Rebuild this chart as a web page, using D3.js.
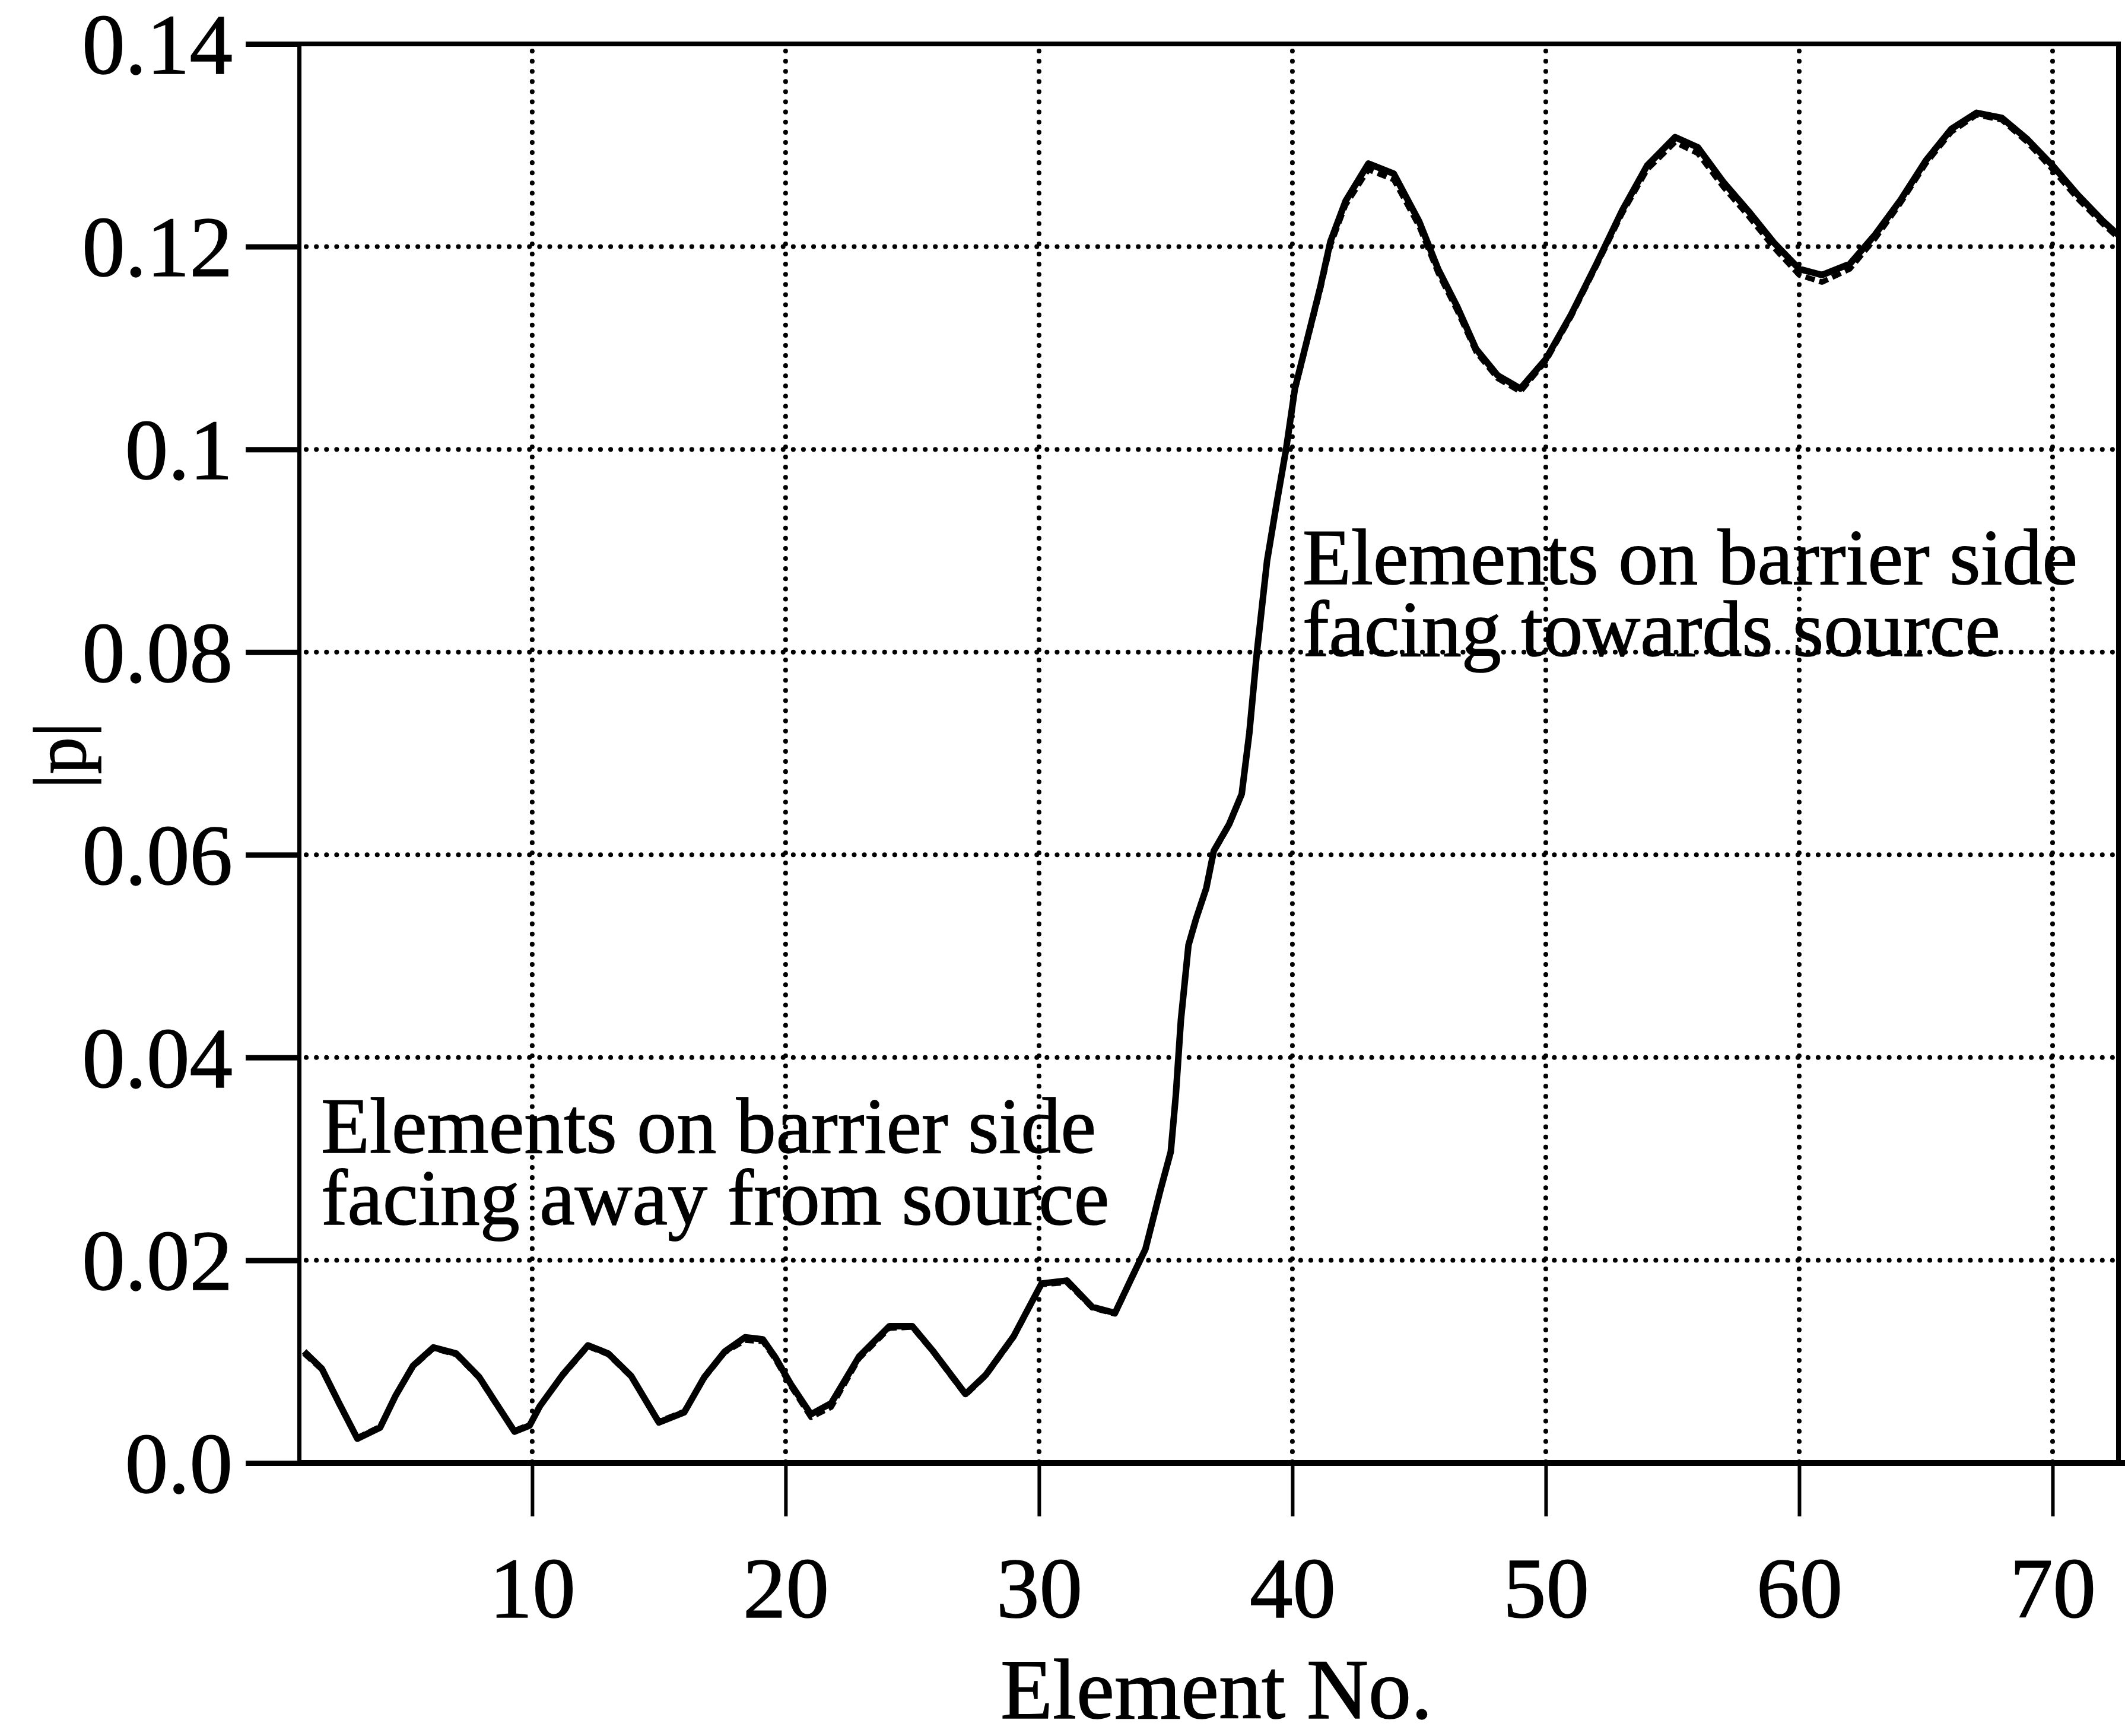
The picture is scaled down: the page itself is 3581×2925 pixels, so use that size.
<!DOCTYPE html>
<html>
<head>
<meta charset="utf-8">
<script src="https://cdn.jsdelivr.net/npm/d3@7"></script>
<style>
  html, body { margin: 0; padding: 0; background: #fff; }
  svg { display: block; }
  text { font-family: "Liberation Serif", "Times New Roman", serif; fill: #000; stroke: #000; stroke-width: 1.5px; }
</style>
</head>
<body>
<div id="chart"></div>
<script>
// Element numbers along the barrier boundary
const elementNo = [
  1.0, 1.7, 2.4, 3.1, 4.0, 4.6, 5.3, 6.1, 7.0, 7.9, 8.6, 9.3, 9.9, 10.3,
  11.2, 12.2, 13.0, 13.9, 15.0, 16.0, 16.8, 17.6, 18.4, 19.1, 19.6, 20.2,
  21.0, 21.8, 22.9, 24.1, 25.0, 25.8, 27.1, 27.9, 29.0, 30.1, 31.1, 32.1,
  33.0, 33.7, 34.2, 34.8, 35.2, 35.4, 35.6, 35.9, 36.2, 36.6, 36.9, 37.5,
  38.0, 38.3, 38.6, 39.0, 39.4, 39.75, 40.1, 40.6, 41.1, 41.5, 42.1, 43.0,
  44.0, 45.0, 45.75, 46.5, 47.25, 48.1, 49.0, 50.0, 51.0, 52.0, 53.0, 54.0,
  55.1, 56.0, 57.0, 58.0, 59.0, 60.0, 60.9, 62.0, 63.0, 64.0, 65.0, 66.0,
  67.0, 68.0, 69.0, 70.0, 71.0, 72.0, 72.75
];

// |p| on each element, first solution (solid)
const pSolid = [
  0.0110, 0.0093, 0.0058, 0.0024, 0.0035, 0.0066, 0.0096, 0.0114, 0.0108, 0.0085, 0.0058, 0.0031, 0.0037, 0.0056,
  0.0087, 0.0116, 0.0108, 0.0086, 0.0040, 0.0050, 0.0085, 0.0110, 0.0124, 0.0122, 0.0104, 0.0078,
  0.0048, 0.0059, 0.0105, 0.0135, 0.0135, 0.0111, 0.0068, 0.0087, 0.0125, 0.0177, 0.0180, 0.0154,
  0.0148, 0.0185, 0.0211, 0.0270, 0.0307, 0.0363, 0.0437, 0.0511, 0.0537, 0.0567, 0.0604, 0.0630,
  0.0660, 0.0720, 0.0800, 0.0890, 0.0950, 0.1000, 0.1060, 0.1110, 0.1160, 0.1205, 0.1245, 0.1282,
  0.1272, 0.1225, 0.1178, 0.1141, 0.1099, 0.1073, 0.1060, 0.1089, 0.1133, 0.1183, 0.1235, 0.1280,
  0.1308, 0.1298, 0.1264, 0.1235, 0.1204, 0.1178, 0.1172, 0.1183, 0.1212, 0.1246, 0.1285, 0.1316,
  0.1332, 0.1327, 0.1306, 0.1280, 0.1251, 0.1225, 0.1208
];

// |p| on each element, second solution (dashed, nearly coincident)
const pDashed = [
  0.0108, 0.0092, 0.0057, 0.0025, 0.0036, 0.0066, 0.0095, 0.0113, 0.0107, 0.0084, 0.0057, 0.0032, 0.0038, 0.0056,
  0.0086, 0.0115, 0.0107, 0.0085, 0.0041, 0.0051, 0.0084, 0.0109, 0.0121, 0.0120, 0.0102, 0.0076,
  0.0045, 0.0055, 0.0103, 0.0133, 0.0134, 0.0110, 0.0067, 0.0086, 0.0124, 0.0176, 0.0178, 0.0153,
  0.0147, 0.0184, 0.0210, 0.0269, 0.0306, 0.0362, 0.0436, 0.0510, 0.0536, 0.0566, 0.0603, 0.0629,
  0.0659, 0.0719, 0.0799, 0.0889, 0.0949, 0.0999, 0.1058, 0.1108, 0.1157, 0.1201, 0.1241, 0.1276,
  0.1266, 0.1220, 0.1174, 0.1137, 0.1096, 0.1070, 0.1057, 0.1087, 0.1131, 0.1181, 0.1232, 0.1276,
  0.1303, 0.1292, 0.1259, 0.1230, 0.1199, 0.1172, 0.1165, 0.1178, 0.1208, 0.1243, 0.1282, 0.1313,
  0.1330, 0.1325, 0.1303, 0.1276, 0.1247, 0.1222, 0.1205
];

const xTicks = [10, 20, 30, 40, 50, 60, 70];
const yTicks = [0, 0.02, 0.04, 0.06, 0.08, 0.10, 0.12, 0.14];
const yTickLabels = ["0.0", "0.02", "0.04", "0.06", "0.08", "0.1", "0.12", "0.14"];

const annotationAway = ["Elements on barrier side", "facing away from source"];
const annotationTowards = ["Elements on barrier side", "facing towards source"];

const W = 3581, H = 2925;
const x = d3.scaleLinear().domain([0.8, 72.6]).range([504, 3570]);
const y = d3.scaleLinear().domain([0, 0.14]).range([2465, 74]);
const [x0, x1] = x.range();
const [y0, y1] = y.range();

const svg = d3.select("#chart").append("svg")
  .attr("width", W).attr("height", H)
  .attr("viewBox", `0 0 ${W} ${H}`);

svg.append("rect").attr("width", W).attr("height", H).attr("fill", "#fff");

// dotted grid
const grid = svg.append("g")
  .attr("stroke", "#000").attr("stroke-width", 8)
  .attr("stroke-linecap", "round").attr("stroke-dasharray", "0.1 17");
grid.selectAll("line.v").data(xTicks).join("line").attr("class", "v")
  .attr("x1", d => x(d)).attr("x2", d => x(d)).attr("y1", y1 + 12).attr("y2", y0);
grid.selectAll("line.h").data(yTicks.filter(d => d > 0 && d < 0.14)).join("line").attr("class", "h")
  .attr("x1", x0 + 12).attr("x2", x1).attr("y1", d => y(d)).attr("y2", d => y(d));

// curves
svg.append("clipPath").attr("id", "plot-clip")
  .append("rect").attr("x", x0).attr("y", y1).attr("width", x1 - x0).attr("height", y0 - y1);

const line = d3.line().x(d => x(d[0])).y(d => y(d[1]));
const curves = svg.append("g").attr("clip-path", "url(#plot-clip)")
  .attr("fill", "none").attr("stroke", "#000").attr("stroke-linejoin", "round");
curves.append("path")
  .datum(elementNo.map((e, i) => [e, pDashed[i]]))
  .attr("d", line).attr("stroke-width", 9).attr("stroke-dasharray", "16 8");
curves.append("path")
  .datum(elementNo.map((e, i) => [e, pSolid[i]]))
  .attr("d", line).attr("stroke-width", 11);

// y axis
const yAxis = svg.append("g").attr("transform", `translate(${x0},0)`)
  .call(d3.axisLeft(y).tickValues(yTicks).tickSize(90).tickSizeOuter(0).tickPadding(22)
    .tickFormat((d, i) => yTickLabels[i]));
yAxis.select(".domain").attr("stroke-width", 7);
yAxis.selectAll(".tick line").attr("stroke-width", 9);
yAxis.selectAll(".tick text")
  .attr("font-size", 145).attr("font-family", "Liberation Serif").attr("dy", "0.34em");

// x axis
const xAxis = svg.append("g").attr("transform", `translate(0,${y0})`)
  .call(d3.axisBottom(x).tickValues(xTicks).tickSize(90).tickSizeOuter(0));
xAxis.select(".domain").remove();
xAxis.selectAll(".tick line").attr("stroke-width", 6);
xAxis.selectAll(".tick text")
  .attr("font-size", 145).attr("font-family", "Liberation Serif")
  .attr("y", 260).attr("dy", null);
xAxis.append("line").attr("x1", x0).attr("x2", W).attr("y1", 0).attr("y2", 0)
  .attr("stroke", "#000").attr("stroke-width", 10);

// frame top and right
svg.append("line").attr("x1", x0).attr("x2", x1 + 4).attr("y1", y1).attr("y2", y1)
  .attr("stroke", "#000").attr("stroke-width", 8);
svg.append("line").attr("x1", x1).attr("x2", x1).attr("y1", y1).attr("y2", y0)
  .attr("stroke", "#000").attr("stroke-width", 8);

// axis titles
svg.append("text").attr("x", 2050).attr("y", 2895)
  .attr("text-anchor", "middle").attr("font-size", 144).text("Element No.");
svg.append("text").attr("transform", "translate(143,1273) rotate(-90)")
  .attr("text-anchor", "middle").attr("font-size", 125).text("|p|");

// annotations
function annotate(lines, px, py) {
  const t = svg.append("text").attr("font-size", 134);
  lines.forEach((s, i) => t.append("tspan").attr("x", px).attr("y", py + i * 121).text(s));
}
annotate(annotationAway, 541, 1942);
annotate(annotationTowards, 2195, 984);
</script>
</body>
</html>
